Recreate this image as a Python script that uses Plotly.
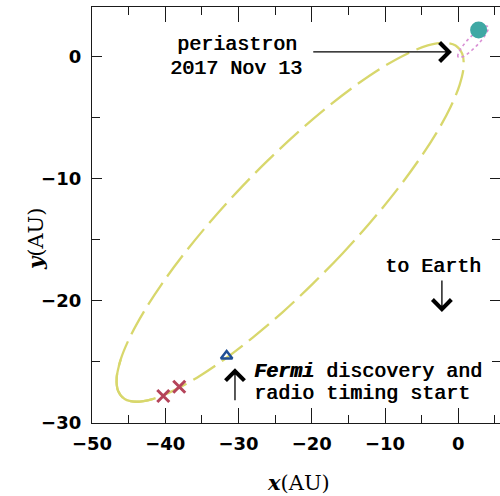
import plotly.graph_objects as go

# Pulsar orbit (AU) (closed curve)
orbit_x = [-11.99, -15.80, -19.84, -23.96, -28.06, -32.00, -35.67, -38.95, -41.74, -43.96,
           -45.54, -46.44, -46.63, -46.09, -44.85, -42.95, -40.43, -37.39, -33.91, -30.10,
           -26.06, -21.94, -17.84, -13.90, -10.24, -6.96, -4.16, -1.94, -0.36, 0.54,
           0.73, 0.19, -1.05, -2.95, -5.47, -8.51, -11.99]
orbit_y = [-13.57, -16.12, -18.59, -20.92, -23.01, -24.82, -26.29, -27.37, -28.04, -28.26,
           -28.04, -27.37, -26.29, -24.82, -23.01, -20.92, -18.59, -16.12, -13.57, -11.02,
           -8.55, -6.23, -4.13, -2.32, -0.85, 0.23, 0.90, 1.12, 0.90, 0.23,
           -0.85, -2.32, -4.13, -6.23, -8.55, -11.02, -13.57]

# Companion (Be star) orbit (AU)
comp_x = [0.17, -0.05, -0.02, 0.26, 0.75, 1.39, 2.11, 2.82, 3.43, 3.87,
          4.09, 4.06, 3.78, 3.29, 2.65, 1.93, 1.22, 0.61, 0.17]
comp_y = [-0.10, -0.02, 0.20, 0.55, 0.97, 1.42, 1.84, 2.18, 2.41, 2.49,
          2.41, 2.18, 1.84, 1.42, 0.97, 0.55, 0.20, -0.02, -0.10]

# Markers
cross_x = [-40.27, -38.09]
cross_y = [-27.79, -27.03]
fermi_x = [-31.62]
fermi_y = [-24.51]
star_x = [2.78]
star_y = [2.17]

# Axis ticks
x_ticks = [-50, -40, -30, -20, -10, 0]
y_ticks = [0, -10, -20, -30]

YELLOW = "#d8d76c"
PINK = "#d98fd4"
TEAL = "#3fa8a4"
RED = "#b5445a"
BLUE = "#1f4e96"
INK = "#1a1a1a"

fig = go.Figure()

fig.add_trace(go.Scatter(
    x=orbit_x, y=orbit_y, mode="lines",
    line=dict(color=YELLOW, width=2.3, dash="26px,8px", shape="spline"),
    hoverinfo="skip", showlegend=False))
# near apastron the orbit looks continuous
fig.add_trace(go.Scatter(
    x=orbit_x[8:14], y=orbit_y[8:14], mode="lines",
    line=dict(color=YELLOW, width=2.3, shape="spline"),
    hoverinfo="skip", showlegend=False))

fig.add_trace(go.Scatter(
    x=comp_x, y=comp_y, mode="lines",
    line=dict(color=PINK, width=1.6, dash="dot", shape="spline"),
    hoverinfo="skip", showlegend=False))

fig.add_trace(go.Scatter(
    x=star_x, y=star_y, mode="markers",
    marker=dict(symbol="circle", size=17, color=TEAL, line=dict(width=0)),
    hoverinfo="skip", showlegend=False))

fig.add_trace(go.Scatter(
    x=cross_x, y=cross_y, mode="markers",
    marker=dict(symbol="x-thin", size=12, color=RED, line=dict(width=3, color=RED)),
    hoverinfo="skip", showlegend=False))

fig.add_trace(go.Scatter(
    x=fermi_x, y=fermi_y, mode="markers",
    marker=dict(symbol="triangle-up-open", size=10, color=BLUE, line=dict(width=2.5, color=BLUE)),
    hoverinfo="skip", showlegend=False))

TXT = dict(family="Liberation Mono", size=20, color="black", shadow="0.7px 0px 0px #000")

ann = []
# text labels
ann.append(dict(x=-30.2, y=0.95, xref="x", yref="y", text="periastron", showarrow=False,
                font=TXT, xanchor="center", yanchor="middle"))
ann.append(dict(x=-30.4, y=-0.95, xref="x", yref="y", text="2017 Nov 13", showarrow=False,
                font=TXT, xanchor="center", yanchor="middle"))
ann.append(dict(x=-3.39, y=-17.23, xref="x", yref="y", text="to Earth", showarrow=False,
                font=TXT, xanchor="center", yanchor="middle"))
ann.append(dict(x=-28.2, y=-25.80, xref="x", yref="y",
                text="<b><i>Fermi</i></b> discovery and", showarrow=False,
                font=TXT, xanchor="left", yanchor="middle"))
ann.append(dict(x=-28.1, y=-27.57, xref="x", yref="y", text="radio timing start",
                showarrow=False, font=TXT, xanchor="left", yanchor="middle"))

ARROW = dict(showarrow=True, arrowhead=4, arrowsize=2.8, arrowwidth=1.3, arrowcolor="black",
             text="", xref="x", yref="y", axref="x", ayref="y")
ann.append(dict(x=-0.86, y=0.37, ax=-20.0, ay=0.37, **ARROW))
ann.append(dict(x=-2.23, y=-20.91, ax=-2.23, ay=-18.21, **ARROW))
ann.append(dict(x=-30.48, y=-25.52, ax=-30.48, ay=-28.26, **ARROW))

# axis titles
TITLE = dict(family="DejaVu Serif", size=21, color="black")
ann.append(dict(x=0.505, y=-0.142, xref="paper", yref="paper",
                text="<b><i>x</i></b>(AU)", showarrow=False, font=TITLE,
                xanchor="center", yanchor="middle"))
ann.append(dict(x=-0.14, y=0.442, xref="paper", yref="paper",
                text="<b><i>y</i></b>(AU)", showarrow=False, font=TITLE, textangle=-90,
                xanchor="center", yanchor="middle"))

TICKFONT = dict(family="DejaVu Sans", size=18, color="black", weight="bold")

fig.update_layout(
    width=500, height=496,
    margin=dict(l=92, r=0, t=7, b=73),
    paper_bgcolor="white", plot_bgcolor="white",
    annotations=ann,
    xaxis=dict(range=[-50, 5.7], tickmode="array", tickvals=x_ticks,
               ticktext=["\u2212" + str(-v) if v < 0 else str(v) for v in x_ticks],
               ticks="inside", ticklen=15, tickwidth=1.3, tickcolor=INK,
               showline=True, linecolor=INK, linewidth=1.3, mirror="ticks",
               showgrid=False, zeroline=False, tickfont=TICKFONT, ticklabelstandoff=4,
               minor=dict(dtick=5, tick0=0, ticks="inside", ticklen=8, tickwidth=1.3,
                          tickcolor=INK, showgrid=False)),
    yaxis=dict(range=[-30, 4.05], tickmode="array", tickvals=y_ticks,
               ticktext=["\u2212" + str(-v) if v < 0 else str(v) for v in y_ticks],
               ticks="inside", ticklen=10, tickwidth=1.3, tickcolor=INK,
               showline=True, linecolor=INK, linewidth=1.3, mirror="ticks",
               showgrid=False, zeroline=False, tickfont=TICKFONT, ticklabelstandoff=6,
               minor=dict(dtick=5, tick0=0, ticks="inside", ticklen=8, tickwidth=1.3,
                          tickcolor=INK, showgrid=False)),
)

fig.write_html("out.html", config={"displayModeBar": False},
               post_script="document.body.style.margin='0';document.body.style.overflow='hidden';")
